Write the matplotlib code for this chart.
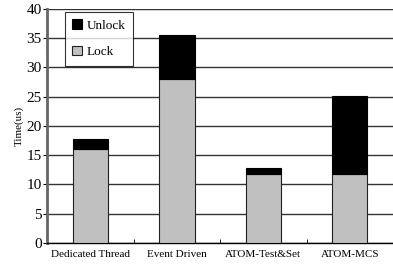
import matplotlib
matplotlib.use("Agg")
import matplotlib.pyplot as plt
import numpy as np

categories = ["Dedicated Thread", "Event Driven", "ATOM-Test&Set", "ATOM-MCS"]
lock = [16.0, 28.0, 11.7, 11.7]
unlock = [1.7, 7.6, 1.1, 13.4]

plt.rcParams["font.family"] = ["Liberation Serif", "DejaVu Serif"]

fig = plt.figure(figsize=(3.93, 2.66), dpi=100)
ax = fig.add_axes([0.12, 0.087, 0.88, 0.879])

x = np.arange(len(categories))
ax.bar(x, lock, 0.41, color="#c0c0c0", edgecolor="#222222", linewidth=0.8,
       label="Lock", zorder=3)
ax.bar(x, unlock, 0.41, bottom=lock, color="black", edgecolor="black",
       linewidth=0.8, label="Unlock", zorder=3)

ax.set_xlim(-0.5, 3.5)
ax.set_ylim(0, 40)
ax.set_yticks(np.arange(0, 41, 5))
ax.yaxis.grid(True, color="#333333", linewidth=1.0, zorder=0)
ax.set_xticks(x)
ax.set_xticklabels(categories, fontsize=8)
ax.set_xticks(np.arange(0.5, 3.5, 1), minor=True)
ax.tick_params(axis="x", which="major", length=0, pad=5)
ax.tick_params(axis="x", which="minor", length=3, direction="in")
ax.tick_params(axis="y", labelsize=11, length=3, pad=1)
ax.set_ylabel("Time(us)", fontsize=8, labelpad=2)

for side in ("top", "right"):
    ax.spines[side].set_visible(False)
ax.spines["left"].set_color("#666666")
ax.spines["left"].set_linewidth(2.0)
ax.spines["bottom"].set_linewidth(1.0)

h, l = ax.get_legend_handles_labels()
leg = ax.legend(h[::-1], l[::-1], loc="upper left", bbox_to_anchor=(0.052, 0.987),
                borderaxespad=0, fontsize=9.5, frameon=True, fancybox=False,
                edgecolor="black", handlelength=0.7, handleheight=0.7,
                handletextpad=0.4, labelspacing=1.1, borderpad=0.55)
leg.get_frame().set_linewidth(0.8)

fig.savefig("out.png", dpi=100)
